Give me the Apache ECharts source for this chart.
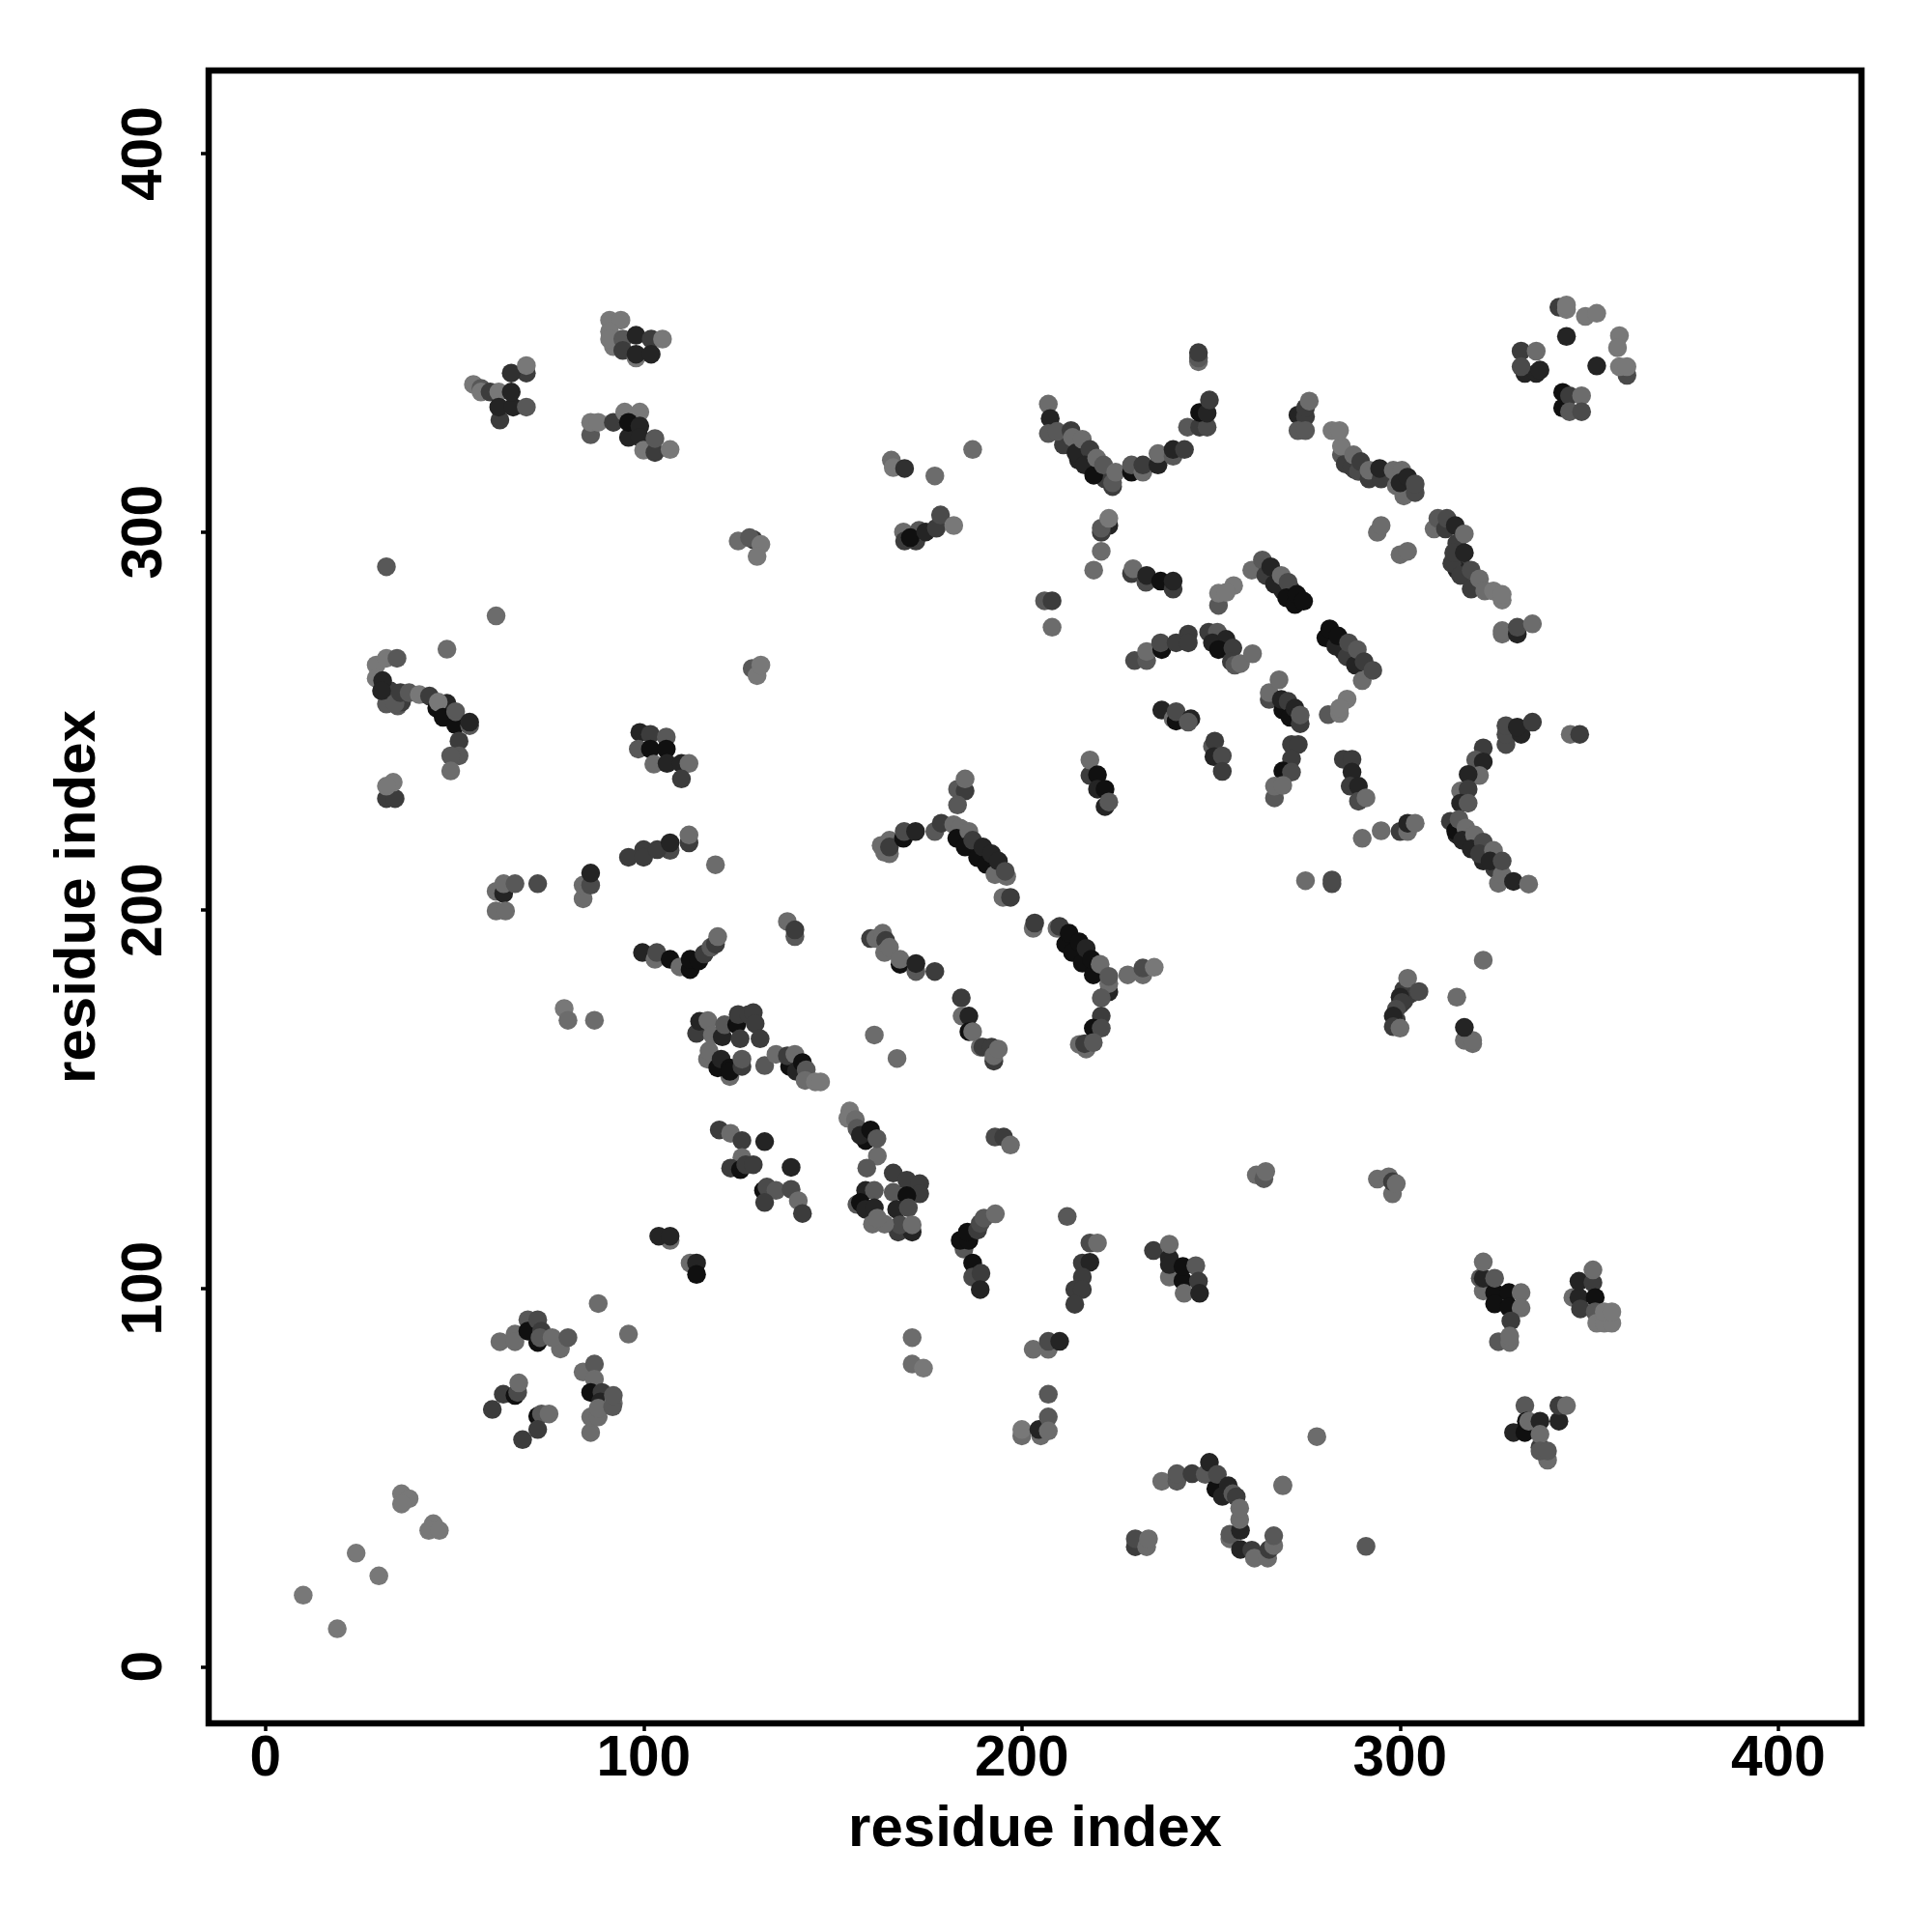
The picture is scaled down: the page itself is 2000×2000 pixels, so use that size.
<!DOCTYPE html>
<html>
<head>
<meta charset="utf-8">
<script src="https://cdn.jsdelivr.net/npm/echarts@6/dist/echarts.min.js"></script>
<style>html,body{margin:0;padding:0;background:#fff}#c{width:2000px;height:2000px}</style>
</head>
<body>
<div id="c"></div>
<script>
// Each contact: [residue i, residue j, shade class]
const tickValues = [0, 100, 200, 300, 400];
const axisName = 'residue index';
const contactsDenseRuns = [
[301,179,3],[303,178,2.5],[299,171,3],[300,175,3],[301,176,3],[302,177.5,3],
[32,254.5,2],[33,258,3],[35,254,2],[36,255,3],[92,349,1],
[286,319,3],[288,316.5,3],[293,315,3],[296,315,3],
[315,297,3],[316,292,3],[315,290,4],[319,287,3],[320,286,2.5],
[267,288,3],[269,284.5,4],[271,285,3.5],
[285,268.5,4],[287,269,3],[289,266,3],
[211,323,3],[215,319,4],[217,320,3],[222,314,3],
[315,220,4],[320,216,3],[322,213,4],[325,211,3]
];
const contactsUpperLeft = [
[91,356,1],[94,356,1],[91,353,1],[91,351,1],[94.5,351,2],[94.5,348,3],[98,346,1],[98,352,4],[98,347,4],[102,351,3],[102,347,4],[105,351,1],
[69,342,3],[65,342,3.5],[69,344,1],[55,339,1],[57,338,2],[57,337,1],[59.4,337,3],[61.7,337,1],[62,329.6,3],[61.7,333,4],[65.5,333,4],[65,337,4],[69,333,2],
[86,325.7,2],[86,329,1],[88,329,1],[92,329,3],[95,331.7,1],[99,331.7,1],[96,325,4],[96,329,5],[99,328,4],[99,325,4],[100,321.6,1],[103,321,3],[103,324.7,2],[107,321.8,1],
[32,290.8,2],[61,277.8,1.5],[48,269,1.5],
[29.3,264.8,1],[29.3,261.3,1],[32,266.6,1],[34.8,266.6,2],[31,260.7,4],[30.7,258,4],[34.3,254.7,2],[35.7,257.5,3],[38,257.5,2],[40.7,257,1],[43.4,256.6,3],[45.3,253.4,5],[48,254.7,4],[45.7,255,1],[47,251,5],[50.3,249,5],[50.3,252.5,2],[54,248.8,2],[54,249.7,4],
[51.2,244.7,3],[51.2,240.8,2],[49,240.8,2],[49,236.8,1.5],
[32,229.5,3],[34.3,229.5,3],[33.8,233.8,1],[32,232.8,1],
[99,247,4],[101.8,246.5,3],[106,245.8,2],[98.6,242.6,2],[101.8,242.6,5],[106,242.6,5],[102.7,238.6,1.5],[106.2,238.8,4],[110,238.8,4],[112,238.8,1.5],[110,234.7,3]
];
const contactsUpperMiddle = [
[125,297.6,1.5],[129,298,3],[128,298.5,2],[131,296.7,1],[130,293.5,1],[128.7,263.9,2],[130,262,1],[131,264.8,1],
[165.5,319,1.5],[166,317,1],[169,316.8,3.5],[177,314.8,1.5],[187,321.8,1.5],
[168.7,300,1.5],[169,297.6,3],[172,297.6,3],[172.8,300.4,2],[170.5,298.5,5],[174.6,300,4],[177.4,301,3],[178.5,304.5,2.5],[182,301.7,1],
[207,333.8,1.5],[207.5,330,4],[207,326,2],[209.3,326.6,2],[213,326.8,3],[213.4,325,1.5],[214.3,320.9,4],[216,324.5,1.5],[218,321.8,3],[216.6,317.7,4],[219,315,5],[219.8,319.5,1.5],[221.6,317.7,2],[224,312,3],[224,313,2],[224.8,315.8,1.5],
[229,315.8,5],[229,317.7,2],[232,315.8,1.5],[232,317.7,3],[236,317.7,4],[236,320.7,1.5],[240,320,2],[240,321.8,4],[243,321.8,3],
[243.8,327.7,2],[247,327.7,3],[249,327.7,2.5],[247,331.6,5],[249,331.4,4],[249.6,334.9,3],[246.7,345,1.5],[246.7,346,2],[246.7,347.4,3],
[223,301.7,4],[221,299.9,3],[221,301,2],[223,303.6,1],[221,294.9,1.5],[219,289.9,1.5],
[206,281.8,2],[208,281.8,3],[208,274.8,1.5],
[229,289,3],[229.4,290.3,1.5],[232.8,286.7,2.5],[233,288.5,4],[236.7,287,5],[240,284.9,3],[240,287,4],
[252,280.6,2],[256,285.8,1],[252,283.8,1],[254,284,1],
[229.8,266,2.5],[233,266,2],[233,268.4,1.5],[237,268.9,5],[236.7,270.7,2.5],[240.8,270.7,3],[244,273,3],[244,270.7,3],
[249.4,273.5,3],[251.7,273.5,2],[250.4,270.7,4],[254,271.6,4],[252,268.9,5],[255.8,269.3,3],[255.4,265.7,3],[256.3,264.8,2],[257.8,265.2,1.5],[261,267.8,1.5],
[237,252.9,4],[240,250.6,1.5],[240.8,250,5],[240.8,252.5,2.5],[244.7,250.6,4],[244,249.7,2],
[250.4,243.3,2],[251,244.7,3],[250.8,240.6,4],[253,240.8,2.5],[253,236.7,3],
[218,235.6,3],[218,239.7,1.5],[220,235.8,5],[220,232,4],[222,232,5],[222,227.4,4],[223,228.6,2],
[183,232,2],[185,231.5,3],[185,234.7,1.5],[183,227.8,2]
];
const contactsUpperRight = [
[342,359.4,3],[344,358.8,1],[344,360,1],[349,357,1],[352,357.8,1],[344,351.7,4],[358,351.9,1],[357.5,348.7,1],[352,343.9,4],[360,341.4,2.5],[358,343.7,1],[360,343.7,1],
[332,347.8,3],[336,347.8,1.5],[333,341.9,4],[336,341.9,4],[332,343.7,2.5],[337,342.8,4],
[343,336.9,5],[343,332.8,5],[344.8,336,3],[344.8,331.8,2],[348,336,1.5],[348,331.8,2.5],
[273,330.9,4],[275,330.5,3],[275,332.8,3],[276,334.6,1.5],[273,326.8,2],[275,326.8,2],
[284.5,320.4,2],[285.5,318,3],[287.3,317.2,3],[284.5,322.7,1],[282,326.8,1],[284,326.8,1],[287.7,320.4,1.5],[289,316,2.5],[289.6,318.6,3],[291.8,314,3],[291.8,316.3,1.5],[295,314,3],[294.6,316.8,4],[299,312.2,1.5],[298.2,316.3,1.5],[300.5,316.3,1.5],[301,309.5,1.5],[300,313,4],[302,314.5,4],[304,310.4,2.5],[304,312.7,2.5],
[294,299.9,1.5],[295,301.7,1.5],[300,294,1.5],[302,294.9,1.5],
[309,300.8,1.5],[310,303.6,2],[312,300.8,3],[312.4,303.6,2.5],[314.6,301.7,4],[317,299.5,1.5],[313.7,291.7,3],[314.2,294.5,3],[317,294.5,4],[316,288.5,3],[318.8,284.9,3],[318.8,289.9,2.5],[321,287.6,1.5],[322.4,284.4,1.5],[324.7,284.4,1],[327,282,1],[327,283.5,1],
[327,273,1.5],[327,273.9,1.5],[331,273,4],[331,274.8,2.5],[335,275.7,1.5],
[260.8,289.9,1.5],[263.6,292.6,2],[264.5,288.5,3],[265.8,290.8,4],[266.8,286.2,4],[268.6,288.5,1.5],[270.4,286.7,2.5],[270,282.6,5],[272.2,280.8,5],[272.7,283.5,5],[274.5,281.7,5],
[280.4,272,5],[281.4,274.4,5],[283,269.8,4],[283.6,272.5,5],[286,267,3],[286.4,270.7,2.5],[288.2,264.8,4],[288.7,268.9,2],[290,260.7,1.5],[290.5,265.7,3],[292.8,263.4,2.5],
[265.4,255.7,2.5],[265.4,257.5,1.5],[268,260.9,1.5],[269,252.9,5],[268.6,255.7,4],[270.4,255.2,3],[270.9,251,5],[272.2,253.4,4],[273.6,249.3,3],[273.6,251.6,2],
[281,251.7,2],[286,255.8,1],[284,252,1],[284,253.4,1],
[271.3,243.8,3],[273.1,243.8,3],[271.3,240,3],[269,236.8,5],[271.3,236.5,2.5],[266.8,229.7,2],[266.8,232.8,1.5],[269,233,1.5],
[285,239.9,3],[287.3,239.9,3],[287.3,236.5,4],[286.8,232.8,3],[289,232.8,4],[289,228.8,2.5],[291,229.7,1.5],
[322,242.9,3],[320,239.7,2],[322,239.2,4],[321,235.6,1.5],[318,235.9,4],[316,231.5,1.5],[318,232,3],[316,228.3,4],[318,228.3,2],
[328,243.8,2.5],[328,246.5,2.5],[328,248.8,2.5],[332,246.5,4],[331,248.4,4],[335,249.7,3],
[345,246.5,1.5],[347.5,246.5,3]
];
const contactsMiddleLeft = [
[61,205,1.5],[63,204.4,4],[61,199.8,1.5],[63.5,199.8,1.5],[63,207,1.5],[66,207,2],[72,207,2.5],
[84,203,1.5],[84,206.6,1.5],[86,206.6,2.5],[86,209.8,4],
[96,214,3],[100,216,3],[100,214,3],[107,215.8,2.5],[103.6,216,3],[107,217.8,4],[112,217.8,3],[112,219.9,1.5],[119,212,1.5],
[99.7,188.8,4],[103,187,1.5],[103.5,188.8,2.5],[107,187,5],[109.6,185,1.5],[112.3,184.3,5],[112.3,187,5],[114.6,186.6,5],[116,188.4,3],[117.8,190.2,2],[119,191,3],[119.6,193,1.5],
[79,174,1],[80,170.9,1.5],[87,170.9,1.5],
[114,167.4,3],[114.8,170.6,4],[117,170.8,1.5],[118.2,167,1.5],[120.8,166.5,4],[121.4,169.7,2],[124.6,169.7,5],[125.5,166,3],[125,172.4,3],[127.8,172.4,3],
[116.9,160.6,1.5],[117.3,162.8,1.5],[122.8,156,1.5],[119.6,158.3,5],[120.5,160.6,4],[122.8,158.3,5],[122.8,157.4,5],[126,158.7,3],[126,160.6,2],
[129,172.9,3],[129.5,170,3],[130.8,166,3],
[120,141.9,3],[123,141,1.5],[126,139.1,3],[126,134.6,1.5],[123,131.8,3],[125.6,131.4,5],[127,132.7,3],
[107,112.7,1.5],[104,113.8,4],[107,113.8,4],[112.3,106.7,1.5],[114,106.7,4],[114,103.7,5]
];
const contactsMiddleCentre = [
[132,138.8,4],[129,132.7,3],[139,132,4],[131.7,125.9,5],[132.6,126.8,2.5],[135,125.9,2],[132,122.7,3],[139,126.2,2.5],[140.9,123.2,1.5],[142,119.8,3],
[132,158.9,2],[135,161.9,1.5],[138.6,158.7,5],[138,161.5,3],[140,161.9,1.5],[140.4,157.4,4],[142,159.7,5],[143,157.8,2],[142.7,155,1.5],[145.4,154.6,1],[146.8,154.6,1],
[138,197,1.5],[140,193,2],[140,194.8,3],
[154.5,146.9,1],[154,145,1],[156,144.6,1.5],[156.4,142.3,2],[158.7,139.1,5],[157.3,140.5,4],[160,141.9,5],[161.8,135,1.5],[161.7,139.6,2],[159,131.8,2],
[166,130.5,3],[166,125.4,2],[169.6,128.6,3],[173,127.7,3],[173,125,3],[169.6,124.5,5],[166.9,120.9,4],[170,121.3,2.5],[167.3,114.9,3],[171,114.9,4],[167.8,116.8,2.5],[171,116.8,1.5],
[158.7,125.9,4],[161,125.9,2],[156.4,122.2,2],[157.3,122.7,5],[158.7,120.9,4],[161,121.3,4],[160.5,117,1.5],[163.7,117,1.5],[161.8,118.6,1.5],
[160,192.5,3],[161.4,192.5,1.5],[163.2,193.9,1.5],[164,192,3],[163.7,188.8,1.5],[165,190.2,1.5],[167.8,185.7,5],[167.8,187,1.5],[172,183.8,2],[172,185.9,4],[177,183.8,3],
[163.7,215.3,1.5],[165,214.9,1.5],[162.8,217.1,1.5],[165,218.5,1.5],[165,216.7,3],[168.7,219,5],[168.9,220.8,2.5],[171.9,220.8,4],[177,220.8,2],
[178.7,223,3],[182,222.6,1.5],[183.7,221.7,1.5],[182.8,219,5],[186,220.8,1.5],[185,216.7,5],[187,218.5,3],[188.3,213.9,5],[189.7,216.7,4],[190.6,212.1,5],[192,214.9,4],[192.9,209.4,1.5],[193.8,213,4],[196,208.9,1.5],[195.6,210.3,2.5],[195,203.4,1.5],[197,203.4,3],
[203,195.2,1.5],[203.4,196.6,3],
[209.3,195.2,1.5],[210,195.7,3],[211.6,191,5],[212.5,193.9,5],[213.4,188.8,5],[215.2,191.6,5],[216,186,5],[217,189.9,4],[218.9,182.9,5],[218.4,187,5],[220.7,185.7,1.5],[223,178.4,4],[223,180.6,1.5],[223,182.5,2],[221,176.8,2],
[228,182.9,1.5],[232,182.9,1.5],[232,184.7,2.5],[235,184.9,1],
[221,172,3],[218.9,168.8,5],[221,168.8,2.5],[215.2,164.5,1.5],[217,163.3,1.5],[216.6,164.7,3],[218.9,165,2],
[184,176.8,3],[184.2,172,1.5],[186,172,4],[186,167.9,5],[187,167.9,1.5],[189,163.8,1.5],[189.7,163.8,3],[192.6,160.1,3],[192,163.8,3],[192.6,161.5,1.5],[193.8,163.3,1.5],
[161,167,1.5],[167,160.8,1.5],
[192.9,140,2.5],[195.2,140,3],[197,137.9,1.5],
[184.7,110.4,2],[183.7,112.7,5],[186,112.7,5],[185.6,114.9,5],[188.3,115.4,3],[189,117.2,2.5],[190,118.6,2],[193,119.7,1.5],
[187,106.7,5],[187,103,2.5],[189.2,104,3],[189,99.7,4],
[212,119,2],[218,112,2.5],[220,112,1.5],[216,106.7,3],[218,106.9,4],[216,103,3],[214,99.7,3],[216,99.7,3],[214,95.8,3],
[234.8,110,3],[239,103,1.5],[239,108,4],[239,106.3,4],[239,111.7,1.5],[242.6,102,5],[242.6,105.8,5],[246,106,2],[246.7,101.9,3],[242.9,98.7,1.5],[247,98.7,4],
[262,130,1.5],[264,129,2],[264.5,130.9,1.5]
];
const contactsMiddleRight = [
[295,221,1.5],[290,219,1.5],[300,220.8,3],[302,220.8,1.5],[302,223,4],[304,223,1.5],
[275,207.8,1.5],[282,207,2.5],[282,208,2.5],
[313.3,223.5,3],[314.7,221,5],[315.6,224,2],[317.4,221.7,1.5],[316.5,218.5,4],[319.7,219.9,1.5],[318.8,216.2,4],[322,218,2.5],[321,214.9,3],[324.7,215.8,1.5],[323.8,213,4],[326,207.1,1.5],[327,209.4,1.5],[327,213,2.5],[330,207.6,4],[334,206.9,1.5],
[322,186.8,1.5],[315,177,1.5],[302,182,1.5],[305,178.5,2.5],[300,177,4],[300.5,175.6,3],[299,173.8,2.5],[298.2,172,4],[298.2,169.2,3],[300,168.8,1.5],
[317,165.6,1.5],[319.2,164.7,1.5],[319.2,165.6,1.5],[317,169,4],
[294,128.9,1.5],[297,129.5,1.5],[298,125,1.5],[298,128.2,3],[299,127.7,1.5]
];
const contactsLowerLeft = [
[10,18.9,1],[19,10,1],[24,30,1],[30,24,1],
[36,45.7,1],[38,44.4,1],[36,43,1],[44.4,37.8,1],[43.2,36,1],[46,36,1],
[88,96,1.5],[96,87.9,1.5],
[62,85.9,1.5],[66,87.9,1.5],[66,85.9,1.5],[69.4,91.7,2],[72,85.7,5],[69.4,88.7,5],[72,91.7,2.5],[73,88.7,3],[72.6,87,2],[78,84,1.5],[75.8,87,1.5],[80,87,2],
[60,68,3],[62.9,72,3],[66,71.7,5],[66.7,72.5,2.5],[67,75,1.5],
[72,66.2,5],[73,66.8,2],[75,66.8,1.5],[72,62.7,3],[68,60,3],
[84,77.9,1.5],[87,80,2],[87,76,1.5],[86,72.5,5],[89,72.5,3],[86,61.9,1.5],[86,66,1.5],[88,66,1.5],[88.6,70,4],[88,68.3,1.5],[92,69.6,1.5],[91.8,68.7,2],[92,71.7,2]
];
const contactsLowerCentre = [
[171,87,1.5],[171,80,1.5],[174,78.9,1],
[203,83.9,1.5],[207,83.9,1.5],[207,86,2.5],[210,86,4],
[207,72,2],[200,61,1.5],[200,62.7,1],[205,61,1.5],[204.5,62.7,4],[207,66,2],[207,62.3,1.5],
[237,49,1.5],[241,49,2],[241,51,2],[245,51,3],[248.5,50.8,2],[249.6,54,4],[251.3,47,5],[251.7,50.8,2.5],[253,45,4],[254.6,47.8,4],[255.8,45.7,2],[256.7,44.9,3],
[255,33.8,1.5],[255,35,2],[257.8,36,4],[257.6,38.9,1.5],[257.6,41.9,1.5],[257.8,31,4],[260.8,30.8,3],[261.5,28.7,1.5],[265,28.7,1.5],[265.4,31,3],[266.6,32,1.5],[266.6,34.6,2],
[230,31.7,3],[230,33.8,2.5],[233,31.7,1.5],[233.5,33.8,1.5],
[269,47.8,1.5]
];
const contactsLowerRight = [
[322,99.3,1.5],[321.2,102.7,2],[322,102.7,4],[322,107,1.5],[325,98.9,5],[328.8,98.9,5],[325,95.9,5],[325,102.7,2],[328.8,95,5],[332,98.9,1.5],[332,94.8,1.5],[329.3,91.4,3],[326,85.9,2],[329,85.7,1.5],[329,87.4,1.5],
[345.7,97.6,1.5],[347.3,97.6,4],[347.3,101.9,4],[347.7,94.6,3],[351,101.5,3],[351,104.9,1.5],[351.6,97.6,5],[351.6,93.8,2],[352,90.8,1],[354,90.8,1],[356,90.8,1],[354,93.8,1],[356,93.8,1],
[333,69,2],[330,61.9,4],[333,61.9,5],[333.4,64.9,5],[334,64.9,1.5],[337,64.9,4],[337,58,3],[337,61.4,1.5],[342,64.9,4],[342,69,3],[344,69,1.5],[339,54.6,1.5],[337,57,2],[339,57,2],
[278,60.8,1.5],[269,48,1.5],[291,31.8,2]
];

const contacts = [].concat(contactsDenseRuns, contactsUpperLeft, contactsUpperMiddle, contactsUpperRight, contactsMiddleLeft,
  contactsMiddleCentre, contactsMiddleRight, contactsLowerLeft, contactsLowerCentre, contactsLowerRight);

const greyOf = { 1: 120, 1.5: 108, 2: 88, 2.5: 74, 3: 60, 3.5: 48, 4: 36, 5: 16 };
const FONT = '"Liberation Sans", Arial, sans-serif';
const chart = echarts.init(document.getElementById('c'), null, { renderer: 'canvas', width: 2000, height: 2000 });
function axis(extra) {
  return Object.assign({
    type: 'value', min: -15, max: 422, splitLine: { show: false },
    axisLine: { show: false, onZero: false },
    axisTick: { show: true, length: 8, customValues: tickValues, lineStyle: { color: '#000', width: 3.5 } },
    name: axisName, nameLocation: 'middle',
    nameTextStyle: { fontFamily: FONT, fontWeight: 'bold', fontSize: 60, color: '#000' }
  }, extra);
}
const labelStyle = { customValues: tickValues, fontFamily: FONT, fontWeight: 'bold', fontSize: 58.5, color: '#000', formatter: v => String(v) };
chart.setOption({
  animation: false,
  backgroundColor: '#fff',
  grid: { left: 216, top: 73, width: 1711, height: 1711, show: true, borderColor: '#000', borderWidth: 6.5, backgroundColor: 'transparent', z: 5 },
  xAxis: axis({ nameGap: 80, axisLabel: Object.assign({ margin: 8 }, labelStyle) }),
  yAxis: axis({ nameGap: 105, axisLabel: Object.assign({ margin: 36, rotate: 90 }, labelStyle) }),
  series: [{
    type: 'scatter', data: contacts, symbol: 'circle', symbolSize: 19.5,
    encode: { x: 0, y: 1 }, large: false, progressive: 0, silent: true,
    itemStyle: { opacity: 1, color: p => { const g = greyOf[p.value[2]]; return `rgb(${g},${g},${g})`; } }
  }]
});
</script>
</body>
</html>
